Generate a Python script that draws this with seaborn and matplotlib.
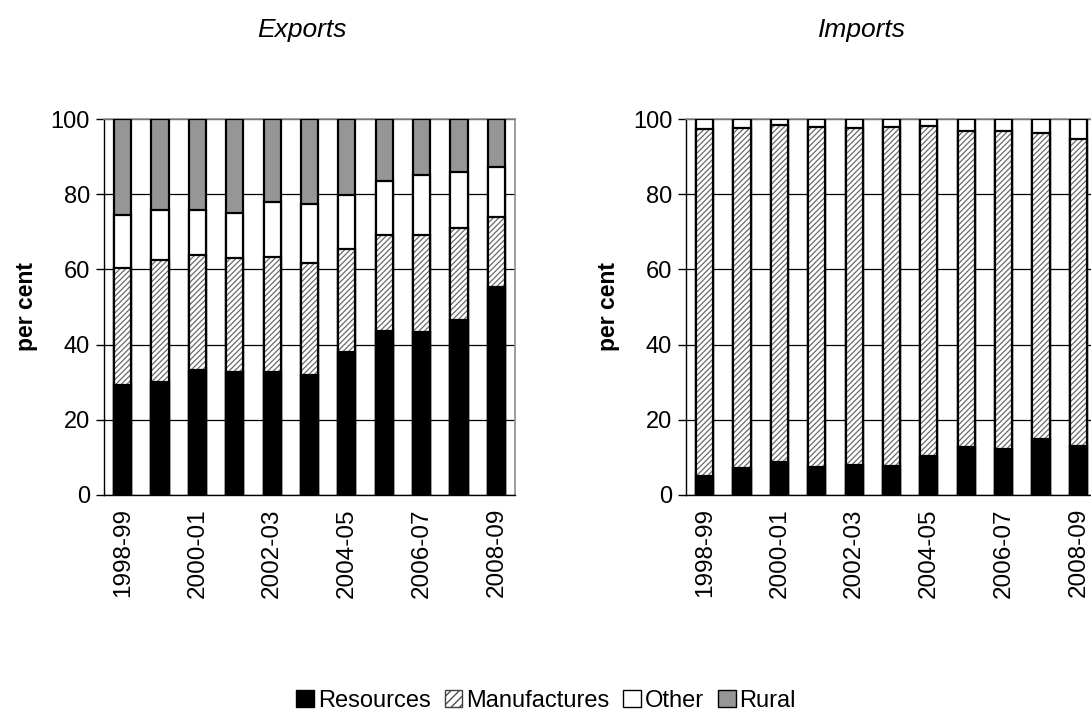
import numpy as np
import pandas as pd
import matplotlib
matplotlib.use("Agg")
import matplotlib.pyplot as plt
from matplotlib.patches import Patch
import seaborn as sns

# data (per cent shares)
years = ["1998-99", "1999-00", "2000-01", "2001-02", "2002-03", "2003-04",
         "2004-05", "2005-06", "2006-07", "2007-08", "2008-09"]

exp_resources = [29.1, 29.9, 33.1, 32.6, 32.6, 32.0, 38.1, 43.7, 43.4, 46.6, 55.3]
exp_manufactures = [31.2, 32.7, 30.8, 30.3, 30.8, 29.8, 27.2, 25.4, 25.7, 24.5, 18.6]
exp_other = [14.3, 13.3, 11.8, 12.2, 14.5, 15.7, 14.5, 14.4, 16.1, 14.9, 13.4]
exp_rural = [25.4, 24.1, 24.3, 24.9, 22.1, 22.5, 20.2, 16.5, 14.8, 14.0, 12.7]

imp_resources = [4.9, 7.1, 8.8, 7.5, 8.0, 7.8, 10.2, 12.8, 12.1, 14.9, 13.0]
imp_manufactures = [92.4, 90.6, 89.6, 90.5, 89.7, 90.2, 88.0, 84.1, 84.8, 81.3, 81.7]
imp_other = [2.7, 2.3, 1.6, 2.0, 2.3, 2.0, 1.8, 3.1, 3.1, 3.8, 5.3]
imp_rural = [0.0, 0.0, 0.0, 0.0, 0.0, 0.0, 0.0, 0.0, 0.0, 0.0, 0.0]

sns.set_style("white")
plt.rcParams["font.family"] = ["Liberation Sans", "DejaVu Sans"]
plt.rcParams["hatch.linewidth"] = 0.9
for k in ["text.color", "axes.labelcolor", "xtick.color", "ytick.color"]:
    plt.rcParams[k] = "black"

fig = plt.figure(figsize=(10.91, 7.13), dpi=100)
ax1 = fig.add_axes([0.0953, 0.306, 0.3767, 0.527])
ax2 = fig.add_axes([0.6288, 0.306, 0.3767, 0.527])

W = 0.46
HATCH = "//////"


def stacked(ax, res, man, oth, rur):
    df = pd.DataFrame({"year": years, "res": res, "man": man, "oth": oth, "rur": rur})
    df["c_res"] = df["res"]
    df["c_man"] = df["c_res"] + df["man"]
    df["c_oth"] = df["c_man"] + df["oth"]
    df["c_rur"] = df["c_oth"] + df["rur"]
    kw = dict(data=df, x="year", order=years, width=W, ax=ax, zorder=3)
    sns.barplot(y="c_rur", color="#969696", edgecolor="black", linewidth=1.6,
                saturation=1, **kw)
    sns.barplot(y="c_oth", color="white", edgecolor="black", linewidth=1.6,
                saturation=1, **kw)
    sns.barplot(y="c_man", color="white", edgecolor="#6a6a6a", linewidth=0,
                hatch=HATCH, saturation=1, **kw)
    sns.barplot(y="c_man", color="black", fill=False, linewidth=1.6, **kw)
    sns.barplot(y="c_res", color="black", edgecolor="black", linewidth=1.6,
                saturation=1, **kw)

    ax.set_ylim(0, 100)
    ax.set_xlim(-0.5, len(years) - 0.5)
    ax.set_yticks([0, 20, 40, 60, 80, 100])
    ax.set_yticklabels(["0", "20", "40", "60", "80", "100"], fontsize=17)
    ax.yaxis.grid(True, color="black", linewidth=0.9, zorder=0)
    ax.set_axisbelow(True)
    ax.set_xticks(range(0, len(years), 2))
    ax.set_xticklabels(years[::2], rotation=90, fontsize=17.5)
    ax.set_xticks(np.arange(-0.5, len(years), 1.0), minor=True)
    ax.tick_params(axis="x", which="major", length=0, pad=9.5)
    ax.tick_params(axis="x", which="minor", length=6, width=1, color="black",
                   direction="out")
    ax.tick_params(axis="y", length=6, width=1, color="black", direction="out",
                   pad=4, left=True)
    ax.set_xlabel("")
    ax.set_ylabel("per cent", fontsize=16.5, fontweight="bold", labelpad=9.5)
    for s in ["top", "right"]:
        ax.spines[s].set_color("#8c8c8c")
        ax.spines[s].set_linewidth(1.2)
    for s in ["left", "bottom"]:
        ax.spines[s].set_color("black")
        ax.spines[s].set_linewidth(1.0)


stacked(ax1, exp_resources, exp_manufactures, exp_other, exp_rural)
stacked(ax2, imp_resources, imp_manufactures, imp_other, imp_rural)

fig.text(302 / 1091, 1 - 30 / 713, "Exports", fontsize=19, style="italic",
         ha="center", va="center")
fig.text(862 / 1091, 1 - 30 / 713, "Imports", fontsize=19, style="italic",
         ha="center", va="center")

handles = [
    Patch(facecolor="black", edgecolor="black", label="Resources"),
    Patch(facecolor="white", edgecolor="#404040", hatch="////", label="Manufactures"),
    Patch(facecolor="white", edgecolor="black", label="Other"),
    Patch(facecolor="#969696", edgecolor="black", label="Rural"),
]
fig.legend(handles=handles, loc="center", bbox_to_anchor=(546 / 1091, 1 - 701 / 713),
           ncol=4, frameon=False, fontsize=17, handlelength=0.75,
           handleheight=0.75, handletextpad=0.15, columnspacing=0.6,
           borderpad=0.1)

fig.savefig("out.png", dpi=100)
